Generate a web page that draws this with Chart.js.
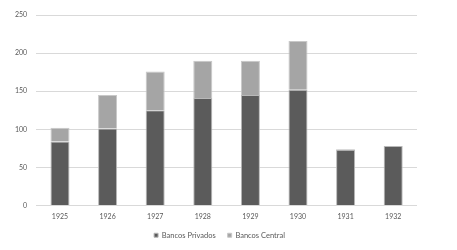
<!DOCTYPE html>
<html>
<head>
<meta charset="utf-8">
<script src="https://cdn.jsdelivr.net/npm/chart.js@4/dist/chart.umd.min.js"></script>
<style>
    html, body { margin: 0; padding: 0; background: #fff; }
    #wrap { width: 457px; height: 250px; }
</style>
</head>
<body>
<div id="wrap"><canvas id="bancosChart"></canvas></div>
<script>
const years = ['1925', '1926', '1927', '1928', '1929', '1930', '1931', '1932'];
const bancosPrivados = [84, 101, 125, 141, 145, 152, 73, 78];
const bancosCentral = [18, 44, 51, 49, 45, 64, 1, 0];
const yTicks = [0, 50, 100, 150, 200, 250];

Chart.defaults.font.family = 'Lato, "Open Sans", sans-serif';
Chart.defaults.font.size = 7;
Chart.defaults.color = '#595959';

// nudge the legend a bit to the right, like in the original
const legendShift = {
    id: 'legendShift',
    afterLayout: function(chart) {
        chart.legend.left += 8;
        chart.legend.right += 8;
    }
};

const ctx = document.getElementById('bancosChart').getContext('2d');
const bancosChart = new Chart(ctx, {
    type: 'bar',
    data: {
        labels: years,
        datasets: [{
            label: 'Bancos Privados',
            data: bancosPrivados,
            backgroundColor: '#5b5b5b',
            borderColor: '#b8b8b8',
            borderWidth: 1,
            categoryPercentage: 1,
            barPercentage: 0.4
        }, {
            label: 'Bancos Central',
            data: bancosCentral,
            backgroundColor: '#a5a5a5',
            borderColor: '#c8c8c8',
            borderWidth: 1,
            categoryPercentage: 1,
            barPercentage: 0.4
        }]
    },
    options: {
        responsive: true,
        maintainAspectRatio: false,
        animation: false,
        layout: {
            padding: { left: 6, right: 40, top: 15, bottom: 1 }
        },
        scales: {
            x: {
                stacked: true,
                grid: { display: false, drawTicks: false },
                border: { display: false },
                ticks: { padding: 7 },
                afterFit: function(axis) {
                    axis.height = 14;
                }
            },
            y: {
                stacked: true,
                min: 0,
                max: 250,
                afterBuildTicks: function(axis) {
                    axis.ticks = yTicks.map(v => ({ value: v }));
                },
                grid: { color: '#d9d9d9', drawTicks: false },
                border: { display: false },
                ticks: { padding: 9 }
            }
        },
        plugins: {
            legend: {
                position: 'bottom',
                labels: {
                    boxWidth: 4,
                    boxHeight: 4,
                    padding: 12,
                    font: { size: 7.5 }
                }
            },
            tooltip: { enabled: false }
        }
    },
    plugins: [legendShift]
});
</script>
</body>
</html>
